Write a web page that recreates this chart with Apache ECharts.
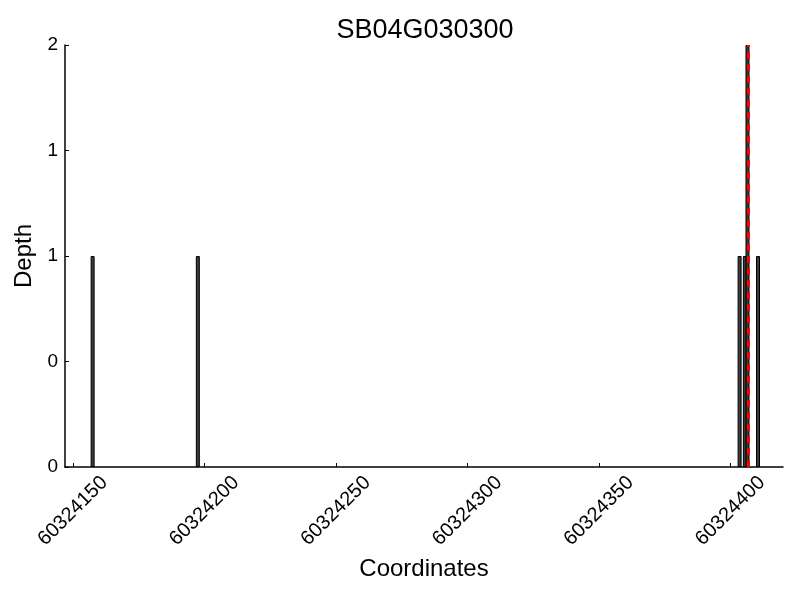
<!DOCTYPE html>
<html>
<head>
<meta charset="utf-8">
<title>SB04G030300</title>
<script src="https://cdn.jsdelivr.net/npm/echarts@6/dist/echarts.min.js"></script>
<style>
  html, body { margin: 0; padding: 0; background: #fff; }
  #chart { width: 800px; height: 600px; }
</style>
</head>
<body>
<div id="chart"></div>
<script>
// 数据
var coords = [60324157.5, 60324197.5, 60324403.5, 60324405.5, 60324406.5, 60324410.5];
var depths = [1, 1, 1, 1, 2, 1];
var xTicks = [60324150, 60324200, 60324250, 60324300, 60324350, 60324400];
var markPos = 60324406.6;

var font = "'Liberation Sans', Arial, sans-serif";
var chart = echarts.init(document.getElementById('chart'));

var option = {
  backgroundColor: '#fff',
  animation: false,
  title: {
    text: 'SB04G030300',
    left: 420,
    textAlign: 'center',
    top: 12,
    textStyle: { fontFamily: font, fontSize: 27, fontWeight: 'normal', color: '#000' }
  },
  grid: { left: 65, right: 17, top: 45, bottom: 133 },
  xAxis: {
    type: 'value',
    min: 60324147,
    max: 60324420,
    name: 'Coordinates',
    nameLocation: 'middle',
    nameGap: 90,
    nameTextStyle: { fontFamily: font, fontSize: 24, color: '#000' },
    axisLine: { show: true, lineStyle: { color: '#000', width: 1.5 } },
    axisTick: { show: true, inside: true, length: 4, customValues: xTicks, lineStyle: { color: '#000' } },
    axisLabel: {
      customValues: xTicks,
      rotate: 45,
      align: 'center',
      verticalAlign: 'middle',
      margin: 44,
      fontFamily: font,
      fontSize: 20,
      color: '#000',
      formatter: function (v) { return String(v); }
    },
    splitLine: { show: false }
  },
  yAxis: {
    type: 'value',
    min: 0,
    max: 2,
    interval: 0.5,
    name: 'Depth',
    nameLocation: 'middle',
    nameGap: 25,
    nameTextStyle: { fontFamily: font, fontSize: 24, color: '#000' },
    axisLine: { show: true, lineStyle: { color: '#000', width: 1.5 } },
    axisTick: { show: true, inside: true, length: 4, lineStyle: { color: '#000' } },
    axisLabel: {
      margin: 7,
      fontFamily: font,
      fontSize: 19,
      color: '#000',
      formatter: function (v) { return String(Math.floor(v)); }
    },
    splitLine: { show: false }
  },
  series: [{
    type: 'bar',
    barWidth: 4,
    data: coords.map(function (c, i) { return [c, depths[i]]; }),
    itemStyle: { color: '#3c3c3c', borderColor: '#000', borderWidth: 1 },
    markLine: {
      silent: true,
      symbol: 'none',
      label: { show: false },
      lineStyle: { color: '#ff0000', width: 3, type: [7, 5] },
      data: [{ xAxis: markPos }]
    }
  }]
};

chart.setOption(option);
</script>
</body>
</html>
